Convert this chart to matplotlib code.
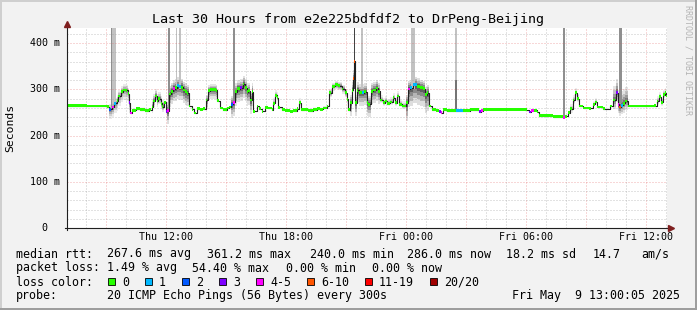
import matplotlib
matplotlib.use('Agg')
import matplotlib.pyplot as plt
import numpy as np
from matplotlib.patches import Rectangle

W, H = 697, 310
plt.rcParams['font.family'] = ['DejaVu Sans Mono']

# time axis: hours since Thu 07:03, median rtt in ms
hours = [0.0, 1.0, 2.0, 2.1, 2.25, 2.37, 2.48, 2.57, 2.68, 2.82, 2.93, 3.03, 3.08, 3.15, 3.25, 3.45,
         3.65, 3.9, 4.12, 4.25, 4.32, 4.4, 4.48, 4.57, 4.68, 4.73, 4.85, 4.93, 5.0, 5.1, 5.2, 5.28,
         5.4, 5.52, 5.62, 5.7, 5.78, 5.9, 5.98, 6.08, 6.23, 6.35, 6.48, 6.65, 6.82, 6.93, 7.03, 7.15,
         7.32, 7.43, 7.52, 7.65, 7.82, 7.98, 8.12, 8.22, 8.3, 8.4, 8.52, 8.65, 8.78, 8.9, 8.98, 9.07,
         9.15, 9.23, 9.32, 9.48, 9.62, 9.73, 9.9, 10.07, 10.23, 10.32, 10.4, 10.48, 10.57, 10.73, 10.9,
         11.15, 11.32, 11.48, 11.6, 11.7, 11.9, 12.07, 12.3, 12.48, 12.65, 12.82, 12.98, 13.1, 13.23,
         13.4, 13.57, 13.73, 13.9, 13.98, 14.07, 14.15, 14.23, 14.3, 14.36, 14.42, 14.48, 14.62, 14.73,
         14.85, 14.98, 15.07, 15.18, 15.32, 15.45, 15.57, 15.65, 15.78, 15.9, 16.02, 16.15, 16.28, 16.4,
         16.52, 16.6, 16.73, 16.85, 16.95, 17.03, 17.15, 17.32, 17.48, 17.65, 17.82, 17.9, 17.98, 18.12,
         18.23, 18.45, 18.6, 18.68, 18.8, 19.0, 19.3, 19.45, 19.8, 20.15, 20.45, 20.6, 20.68, 20.8, 21.6,
         22.9, 23.1, 23.2, 23.35, 23.48, 23.6, 24.3, 24.78, 24.92, 25.05, 25.15, 25.28, 25.4, 25.5,
         25.62, 25.82, 26.1, 26.32, 26.4, 26.5, 26.82, 27.15, 27.32, 27.45, 27.55, 27.62, 27.7, 27.8,
         27.9, 28.05, 28.3, 29.0, 29.35, 29.48, 29.6, 29.7, 29.8, 29.88, 29.95]
median = [265, 264, 263, 257, 262, 270, 276, 286, 295, 299, 298, 291, 271, 249, 255, 258,
          256, 254, 256, 262, 275, 286, 275, 280, 270, 263, 272, 253, 254, 290, 296, 302,
          304, 308, 306, 305, 299, 295, 292, 264, 257, 249, 258, 257, 258, 277, 297, 300,
          300, 298, 276, 260, 256, 260, 262, 268, 272, 295, 302, 304, 312, 304, 295, 297,
          277, 295, 253, 264, 258, 253, 261, 260, 256, 270, 287, 282, 261, 256, 255,
          253, 254, 258, 271, 256, 257, 254, 256, 258, 257, 260, 264, 293, 307,
          310, 308, 301, 293, 279, 256, 271, 298, 323, 361, 271, 298, 293, 293,
          295, 271, 268, 296, 299, 303, 296, 277, 271, 275, 270, 273, 282, 271,
          286, 268, 264, 264, 271, 301, 304, 310, 307, 304, 302, 289, 293, 264,
          256, 255, 253, 250, 256, 254, 254, 254, 254, 256, 256, 252, 254, 257, 257,
          256, 251, 255, 255, 251, 243, 241, 240, 242, 250, 258, 277, 293, 280,
          264, 260, 259, 268, 273, 262, 258, 264, 277, 293, 268, 262, 266, 270,
          275, 264, 264, 264, 265, 275, 284, 272, 289, 293, 286]

# samples with packet loss: time and loss bucket index
loss_at = [2.1, 2.25, 2.37, 3.08, 3.15, 4.93, 5.0, 5.28, 5.52, 5.62, 8.22, 8.3, 8.65, 14.3, 14.36,
           14.73, 17.03, 17.15, 17.32, 18.6, 18.68, 19.45, 20.6, 20.68, 23.1, 23.2, 24.78, 27.45,
           27.55, 27.62, 27.7]
loss_bucket = [2, 4, 1, 3, 4, 3, 4, 4, 1, 1, 2, 4, 3, 5, 5,
               1, 4, 1, 1, 3, 4, 1, 3, 4, 3, 4, 4, 3,
               4, 5, 1]
loss_labels = ['0', '1', '2', '3', '4-5', '6-10', '11-19', '20/20']
loss_colors = ['#26ff00', '#00b8ff', '#0059ff', '#7e00ff', '#ff00ff', '#ff5500', '#ff0000', '#a00000']

# smoke (spread of the 20 pings around the median)
smoke_start = [2.1, 3.2, 4.2, 5.0, 6.9, 8.2, 10.3, 11.55, 12.0, 13.05, 14.15, 15.6, 16.95, 25.15, 26.3, 27.2, 29.4]
smoke_end = [3.15, 4.2, 4.9, 6.1, 7.6, 9.35, 10.6, 11.8, 13.05, 14.1, 15.65, 16.95, 18.15, 25.7, 26.6, 28.1, 29.95]
smoke_up = [12, 5, 15, 18, 12, 18, 12, 10, 5, 8, 18, 10, 17, 10, 8, 30, 10]
smoke_down = [22, 3, 12, 28, 20, 30, 6, 6, 3, 10, 28, 6, 40, 8, 4, 20, 8]
smoke_density = [0.6, 0.3, 0.7, 1.0, 0.8, 0.9, 0.5, 0.5, 0.3, 0.7, 0.9, 0.5, 1.0, 0.5, 0.4, 0.8, 0.5]

# single pings far above the rest
spike_start = [2.2, 2.27, 5.03, 5.43, 5.62, 8.28, 14.33, 14.7, 17.2, 19.4, 19.4, 24.8, 27.62]
spike_end = [2.27, 2.45, 5.15, 5.5, 5.7, 8.4, 14.42, 14.78, 17.4, 19.52, 19.52, 24.9, 27.75]
spike_low = [262, 268, 260, 300, 300, 270, 300, 300, 300, 320, 254, 240, 270]
spike_high = [433, 433, 433, 433, 433, 433, 433, 433, 433, 433, 320, 433, 433]
spike_pings = [3, 1, 3, 1, 1, 3, 6, 1, 1, 1, 4, 3, 3]

xtick_hours = [4.95, 10.95, 16.95, 22.95, 28.95]
xtick_labels = ['Thu 12:00', 'Thu 18:00', 'Fri 00:00', 'Fri 06:00', 'Fri 12:00']
ytick_values = [0, 100, 200, 300, 400]

hours = np.array(hours)
median = np.array(median, dtype=float)

fig = plt.figure(figsize=(W / 100, H / 100), dpi=100, facecolor='#f2f2f2')
ax = fig.add_axes([67 / W, 1 - 228 / H, 600 / W, 200 / H])
ax.set_facecolor('white')
ax.set_xlim(0, 30)
ax.set_ylim(0, 433)
for s in ax.spines.values():
    s.set_visible(False)

# smoke
for t0, t1, up, dn, d in zip(smoke_start, smoke_end, smoke_up, smoke_down, smoke_density):
    m = (hours >= t0) & (hours <= t1)
    for f, a in [(1.0, 0.13), (0.7, 0.18), (0.45, 0.24), (0.25, 0.3)]:
        ax.fill_between(hours, median - dn * f, median + up * f, where=m, step='post',
                        color='black', alpha=a * d, lw=0, zorder=1)

tones = [str(max(0.2, 0.86 - 0.1 * p)) for p in spike_pings]
ax.bar(spike_start, np.array(spike_high) - np.array(spike_low), bottom=spike_low,
       width=np.array(spike_end) - np.array(spike_start), align='edge', color=tones, lw=0, zorder=1.5)

# grid
for h in np.arange(0.95, 30, 1.0):
    major = abs((h - 1.95) / 3 - round((h - 1.95) / 3)) < 1e-6
    ax.axvline(h, color='#de5050' if major else '#8f8f8f', alpha=0.45 if major else 0.5,
               lw=0.72, ls=(0, (1, 2)), zorder=2)
for v in range(20, 434, 20):
    major = v % 100 == 0
    ax.axhline(v, color='#de5050' if major else '#8f8f8f', alpha=0.45 if major else 0.5,
               lw=0.72, ls=(0, (1, 2)), zorder=2)

# median line coloured by loss
bucket = np.zeros(len(hours), dtype=int)
for t, b in zip(loss_at, loss_bucket):
    bucket[np.argmin(np.abs(hours - t))] = b
step = np.append(np.diff(hours), 0.05)
jump = np.abs(np.diff(median, append=median[-1])) > 4
widths = np.where(jump, np.minimum(step, 0.09), step)
ax.step(hours, median, where='post', color='#202020', lw=0.8, zorder=3)
band = 6.0
ax.bar(hours, band, bottom=median - band / 2, width=widths, align='edge',
       color=[loss_colors[b] for b in bucket], lw=0, zorder=4)

# axes with arrows
ax.plot([-2 / 600, 1 + 2 / 600], [0, 0], transform=ax.transAxes, color='#1f1f1f', lw=0.8, clip_on=False, zorder=6)
ax.plot([0, 0], [-2 / 200, 1 + 1 / 200], transform=ax.transAxes, color='#1f1f1f', lw=0.8, clip_on=False, zorder=6)
ax.plot([1 + 4 / 600], [0], marker='>', ms=4, color='#7f1f1f', transform=ax.transAxes, clip_on=False, zorder=6)
ax.plot([0], [1 + 4 / 200], marker='^', ms=4, color='#7f1f1f', transform=ax.transAxes, clip_on=False, zorder=6)

ax.set_xticks(xtick_hours, xtick_labels)
ax.tick_params(axis='x', length=0, pad=2.7, labelsize=7.2)
ax.set_yticks([])
for v in ytick_values:
    label = f'{v:>3} m' if v else '  0'
    ax.text((30 - 67) / 600, v, label, transform=ax.get_yaxis_transform(), ha='left',
            va='center', fontsize=7.2)


def px(x, y):
    return x / W, 1 - y / H


fig.text(*px(10, 128), 'Seconds', rotation=90, ha='center', va='center', fontsize=8.2)
fig.text(*px(348, 19), 'Last 30 Hours from e2e225bdfdf2 to DrPeng-Beijing', ha='center', va='center', fontsize=9.6)
fig.text(*px(688, 5), 'RRDTOOL / TOBI OETIKER', rotation=270, ha='center', va='top', fontsize=6, color='#b4b4b4')

fs = 8.4
rows = [
    (254, [(16, 'median rtt:'), (107, '267.6 ms avg'), (207, '361.2 ms max'), (310, '240.0 ms min'),
           (407, '286.0 ms now'), (506.5, '18.2 ms sd'), (593, '14.7'), (641.5, 'am/s')]),
    (268, [(16, 'packet loss:'), (107, '1.49 % avg'), (192.5, '54.40 % max'), (286.5, '0.00 % min'),
           (372, '0.00 % now')]),
    (282, [(16, 'loss color:')]),
    (296, [(16, 'probe:'), (107, '20 ICMP Echo Pings (56 Bytes) every 300s')]),
]
for y, parts in rows:
    for x, s in parts:
        fig.text(*px(x, y), s, ha='left', va='center', fontsize=fs)
fig.text(*px(680, 296), 'Fri May  9 13:00:05 2025', ha='right', va='center', fontsize=fs)

x = 108
for lab, col in zip(loss_labels, loss_colors):
    fig.add_artist(Rectangle(px(x, 284.5), 7 / W, 7 / H, transform=fig.transFigure,
                             facecolor=col, edgecolor='black', lw=0.6))
    fig.text(*px(x + 14, 282), lab, ha='left', va='center', fontsize=fs)
    x += 30 + 7 * len(lab)

# 3d frame
fig.add_artist(Rectangle((0, 1 - 2 / H), 1, 2 / H, transform=fig.transFigure, color='#cfcfcf', lw=0))
fig.add_artist(Rectangle((0, 0), 2 / W, 1, transform=fig.transFigure, color='#cfcfcf', lw=0))
fig.add_artist(Rectangle((0, 0), 1, 2 / H, transform=fig.transFigure, color='#9e9e9e', lw=0))
fig.add_artist(Rectangle((1 - 2 / W, 0), 2 / W, 1, transform=fig.transFigure, color='#9e9e9e', lw=0))

fig.savefig('out.png', dpi=100, facecolor=fig.get_facecolor())
